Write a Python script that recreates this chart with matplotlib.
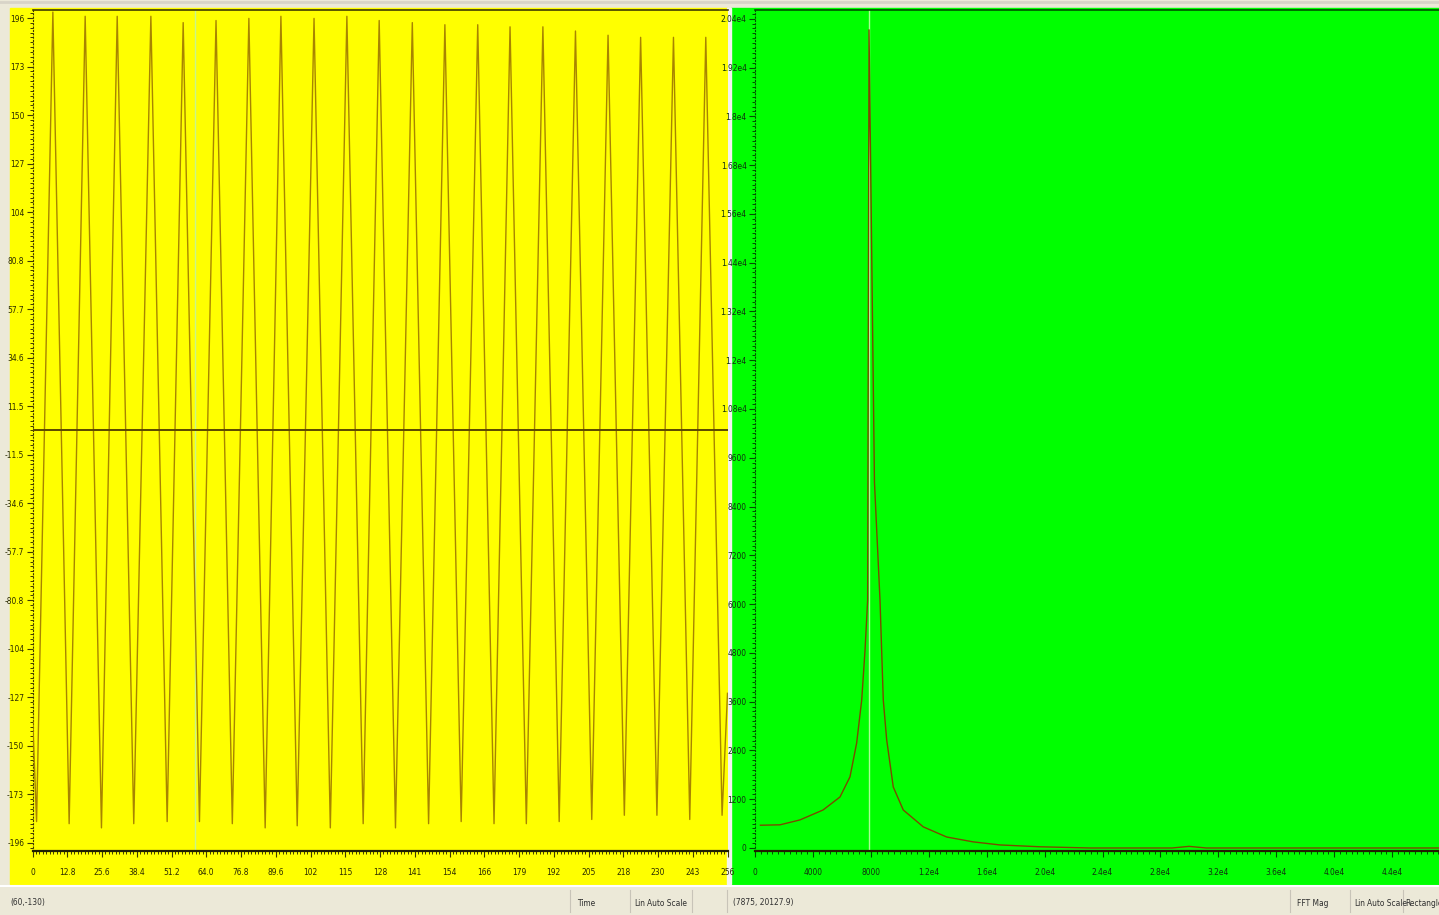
import numpy as np
import matplotlib
matplotlib.use("Agg")
import matplotlib.pyplot as plt
from matplotlib.patches import Rectangle
from matplotlib.ticker import MultipleLocator, FixedLocator, FuncFormatter

plt.rcParams['font.family'] = ['Liberation Sans Narrow', 'DejaVu Sans']

# time record: sample index / amplitude of each crest and trough
peak_t = [7.5, 19.4, 31.2, 43.6, 55.5, 67.6, 79.7, 91.5, 103.7, 115.8, 127.7,
          139.9, 151.9, 164.0, 175.9, 188.0, 200.0, 212.0, 224.0, 236.1, 248.0]
peak_v = [199, 197, 197, 197, 194, 195, 196, 197, 196, 197, 195,
          194, 193, 193, 192, 192, 190, 188, 187, 187, 187]
trough_t = [13.5, 25.4, 37.3, 49.6, 61.5, 73.6, 85.7, 97.5, 109.7, 121.8, 133.7,
            145.9, 157.9, 170.0, 181.9, 194.0, 206.0, 218.0, 230.0, 242.1, 254.0]
trough_v = [-187, -189, -187, -186, -186, -187, -189, -188, -189, -187, -189,
            -187, -186, -187, -187, -186, -185, -183, -183, -185, -183]
start_pt = (0, -135)
first_trough = (1.5, -186)
end_pt = (256, -125)

# magnitude spectrum (Hz, magnitude)
spec_f = [375, 1725, 3100, 4700, 5870, 6560, 7020, 7370, 7600, 7780, 7875,
          8250, 8633, 8860, 9095, 9550, 10240, 11620, 13240, 15080, 16920,
          19680, 23140, 28800, 29980, 31160, 48000]
spec_m = [560, 570, 690, 935, 1255, 1750, 2580, 3640, 4870, 6100, 20128,
          9000, 6100, 3640, 2660, 1500, 935, 520, 270, 150, 75,
          30, 0, 0, 40, 0, 0]

time_cursor = 60
freq_cursor = 7875

time_ticks = [12.8 * k for k in range(21)]
amp_ticks = [11.54 * k for k in range(-17, 18, 2)]
freq_ticks = [4000 * k for k in range(13)]
mag_ticks = [1200 * k for k in range(18)]

W, H = 1439, 915
YELLOW = '#ffff00'
GREEN = '#00ff00'
BAR = '#ece9d8'


def box(x0, y0, x1, y1):
    return [x0 / W, 1 - y1 / H, (x1 - x0) / W, (y1 - y0) / H]


def fmt_time(v, pos=None):
    if abs(v) < 1e-9:
        return '0'
    return f'{v:.1f}' if abs(v) < 100 else f'{v:.0f}'


def fmt_amp(v, pos=None):
    return f'{v:.1f}' if abs(v) < 100 else f'{v:.0f}'


def fmt_big(v, pos=None):
    if v < 1e4:
        return f'{v:.0f}'
    s = f'{v / 1e4:.2f}'.rstrip('0')
    if s.endswith('.'):
        s += '0'
    return s + 'e4'


fig = plt.figure(figsize=(W / 100, H / 100), dpi=100, facecolor=BAR)

# panel backgrounds
for x0, w, c in ((10, 717, YELLOW), (731, 708, GREEN), (727, 4, '#f4f4f0')):
    fig.patches.append(Rectangle((x0 / W, 1 - 884 / H), w / W, 876 / H,
                                 transform=fig.transFigure, color=c, zorder=-5))


def style_axes(ax, face, dark, lab):
    ax.set_facecolor(face)
    ax.set_zorder(2)
    ax.spines['right'].set_visible(False)
    ax.spines['top'].set_color(dark)
    ax.spines['top'].set_linewidth(1.2)
    ax.spines['bottom'].set_color('#202000')
    ax.spines['bottom'].set_linewidth(1.6)
    ax.spines['left'].set_color(dark)
    ax.spines['left'].set_linewidth(0.8)
    ax.spines['left'].set_linestyle((0, (1, 2)))
    ax.tick_params(which='major', direction='out', length=4, width=0.8,
                   color=dark, labelsize=6, labelcolor=lab, pad=2)
    ax.tick_params(which='minor', direction='out', length=2, width=0.7, color=dark)
    ax.tick_params(axis='x', which='major', pad=8)
    for lbl in ax.get_xticklabels() + ax.get_yticklabels():
        lbl.set_fontstretch('condensed')


# time record
ax1 = fig.add_axes(box(32.5, 10, 727.5, 851))
t = np.array([start_pt[0], first_trough[0]]
             + [v for pair in zip(peak_t, trough_t) for v in pair] + [end_pt[0]])
y = np.array([start_pt[1], first_trough[1]]
             + [v for pair in zip(peak_v, trough_v) for v in pair] + [end_pt[1]])
ax1.plot(t, y, color='#a88400', lw=1.0, zorder=3)
ax1.axhline(0, color='#5a4800', lw=1.4, zorder=4)
ax1.axvline(time_cursor, color='#c8f58a', lw=1.0, zorder=2)
ax1.set_xlim(0, 256)
ax1.set_ylim(-200, 200)
ax1.xaxis.set_major_locator(FixedLocator(time_ticks))
ax1.xaxis.set_minor_locator(MultipleLocator(1.28))
ax1.yaxis.set_major_locator(FixedLocator(amp_ticks))
ax1.yaxis.set_minor_locator(MultipleLocator(2.308))
ax1.xaxis.set_major_formatter(FuncFormatter(fmt_time))
ax1.yaxis.set_major_formatter(FuncFormatter(fmt_amp))
style_axes(ax1, YELLOW, '#403a00', '#2a2a00')

# spectrum
ax2 = fig.add_axes(box(755, 10, 1450, 851))
ax2.plot(spec_f, spec_m, color='#7a4a00', lw=1.0, zorder=3)
ax2.axvline(freq_cursor, color='#a8ff90', lw=1.0, zorder=2)
ax2.set_xlim(0, 48000)
ax2.set_ylim(-74, 20615)
ax2.xaxis.set_major_locator(FixedLocator(freq_ticks))
ax2.xaxis.set_minor_locator(MultipleLocator(400))
ax2.yaxis.set_major_locator(FixedLocator(mag_ticks))
ax2.yaxis.set_minor_locator(MultipleLocator(120))
ax2.xaxis.set_major_formatter(FuncFormatter(fmt_big))
ax2.yaxis.set_major_formatter(FuncFormatter(fmt_big))
style_axes(ax2, GREEN, '#005000', '#103010')

# status bars
fig.add_artist(plt.Line2D([0, 1], [1 - 886 / H] * 2, color='white', lw=1.5))
fig.add_artist(plt.Line2D([0, 1], [1 - 2 / H] * 2, color='#d8d4c8', lw=2))
for xs in (570, 630, 692, 727, 1290, 1350, 1403):
    fig.add_artist(plt.Line2D([xs / W] * 2, [1 - 912 / H, 1 - 890 / H],
                              color='#c8c4b8', lw=0.8))
status = [(10, '(60,-130)'), (577, 'Time'), (634, 'Lin'), (647, 'Auto Scale'),
          (733, '(7875, 20127.9)'), (1297, 'FFT Mag'), (1354, 'Lin'),
          (1367, 'Auto Scale'), (1405, 'Rectangle')]
for xs, s in status:
    fig.text(xs / W, 1 - 903 / H, s, fontsize=6, color='#303030',
             ha='left', va='center', fontstretch='condensed')

fig.savefig('out.png', dpi=100, facecolor=BAR)
